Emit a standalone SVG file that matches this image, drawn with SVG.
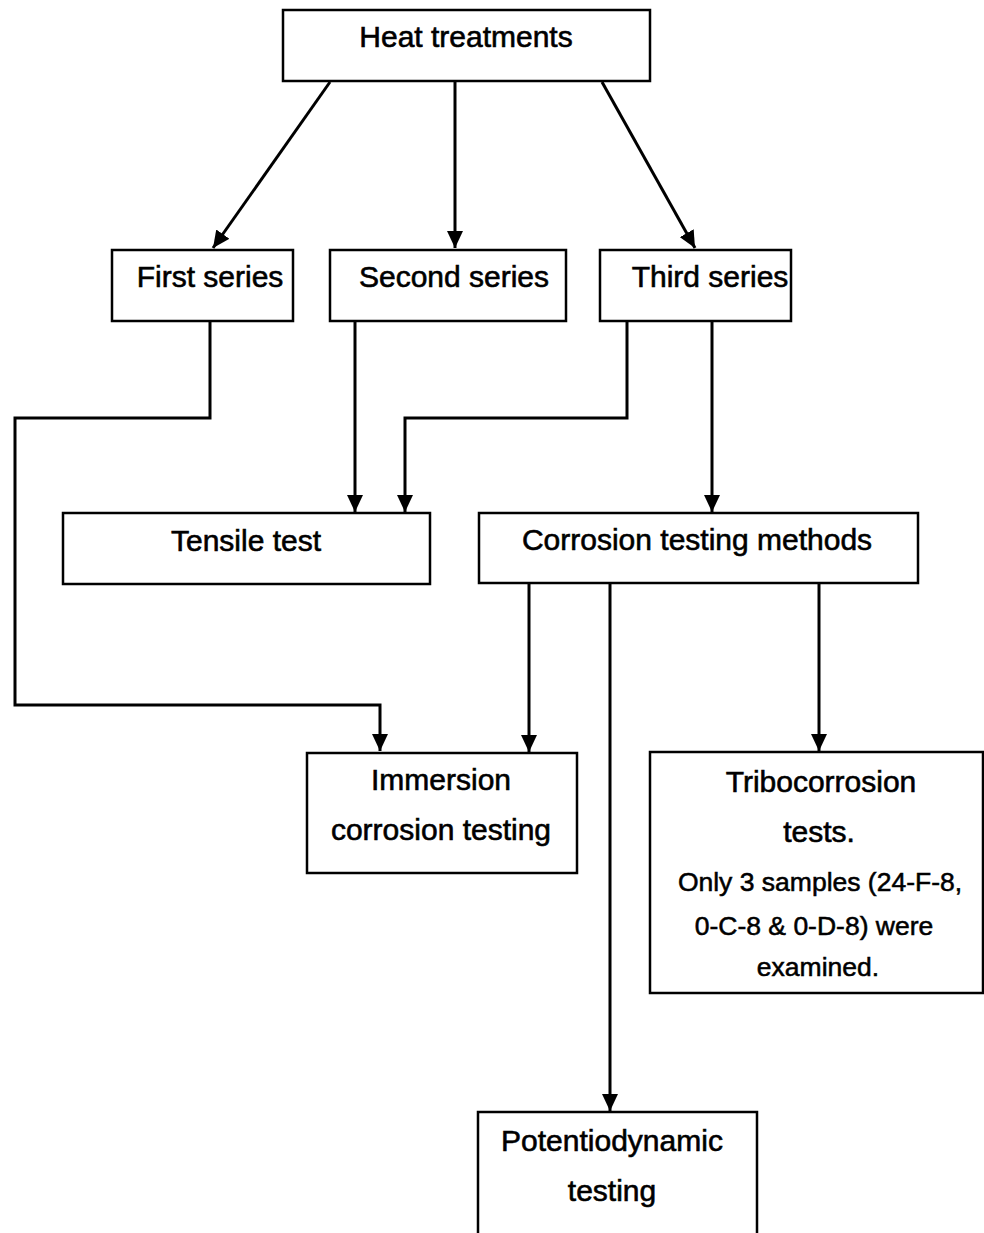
<svg xmlns="http://www.w3.org/2000/svg" width="984" height="1233" viewBox="0 0 984 1233">
<style>
  .box { fill: #fff; stroke: #000; stroke-width: 2.5; }
  .lbl { font-family: "Liberation Sans", Arial, sans-serif; font-size: 30px; fill: #000; stroke: #000; stroke-width: 0.6; text-anchor: middle; }
  .sm { font-size: 26.5px; stroke-width: 0.55; }
  .conn { fill: none; stroke: #000; stroke-width: 3; }
</style>
<defs>
  <marker id="arr" markerUnits="userSpaceOnUse" markerWidth="18" markerHeight="16" refX="17" refY="8" orient="auto">
    <path d="M0,0 L17,8 L0,16 z" fill="#000"/>
  </marker>
</defs>
<rect width="984" height="1233" fill="#fff"/>

<g id="connectors">
  <line class="conn" x1="330" y1="82" x2="213" y2="248" marker-end="url(#arr)"/>
  <line class="conn" x1="455" y1="82" x2="455" y2="248" marker-end="url(#arr)"/>
  <line class="conn" x1="602" y1="82" x2="695" y2="248" marker-end="url(#arr)"/>
  <polyline class="conn" points="210,321 210,418 15,418 15,705 380,705 380,751" marker-end="url(#arr)"/>
  <line class="conn" x1="355" y1="321" x2="355" y2="512" marker-end="url(#arr)"/>
  <polyline class="conn" points="627,321 627,418 405,418 405,512" marker-end="url(#arr)"/>
  <line class="conn" x1="712" y1="321" x2="712" y2="512" marker-end="url(#arr)"/>
  <line class="conn" x1="529" y1="583" x2="529" y2="752" marker-end="url(#arr)"/>
  <line class="conn" x1="610" y1="583" x2="610" y2="1111" marker-end="url(#arr)"/>
  <line class="conn" x1="819" y1="583" x2="819" y2="751" marker-end="url(#arr)"/>
</g>

<g id="heat">
  <rect class="box" x="283" y="10" width="367" height="71"/>
  <text class="lbl" x="466" y="47">Heat treatments</text>
</g>
<g id="first">
  <rect class="box" x="112" y="250" width="181" height="71"/>
  <text class="lbl" x="210" y="287">First series</text>
</g>
<g id="second">
  <rect class="box" x="330" y="250" width="236" height="71"/>
  <text class="lbl" x="454" y="287">Second series</text>
</g>
<g id="third">
  <rect class="box" x="600" y="250" width="191" height="71"/>
  <text class="lbl" x="710" y="287">Third series</text>
</g>
<g id="tensile">
  <rect class="box" x="63" y="513" width="367" height="71"/>
  <text class="lbl" x="246" y="551">Tensile test</text>
</g>
<g id="corrosion">
  <rect class="box" x="479" y="513" width="439" height="70"/>
  <text class="lbl" x="697" y="550">Corrosion testing methods</text>
</g>
<g id="immersion">
  <rect class="box" x="307" y="753" width="270" height="120"/>
  <text class="lbl" x="441" y="790">Immersion</text>
  <text class="lbl" x="441" y="840">corrosion testing</text>
</g>
<g id="tribo">
  <rect class="box" x="650" y="752" width="333" height="241"/>
  <text class="lbl" x="821" y="792">Tribocorrosion</text>
  <text class="lbl" x="819" y="842" font-size="28">tests.</text>
  <text class="lbl sm" x="820" y="891">Only 3 samples (24-F-8,</text>
  <text class="lbl sm" x="814" y="935">0-C-8 &amp; 0-D-8) were</text>
  <text class="lbl sm" x="818" y="976">examined.</text>
</g>
<g id="potentio">
  <path class="box" d="M478,1240 L478,1112 L757,1112 L757,1240"/>
  <text class="lbl" x="612" y="1151">Potentiodynamic</text>
  <text class="lbl" x="612" y="1201">testing</text>
</g>
</svg>
